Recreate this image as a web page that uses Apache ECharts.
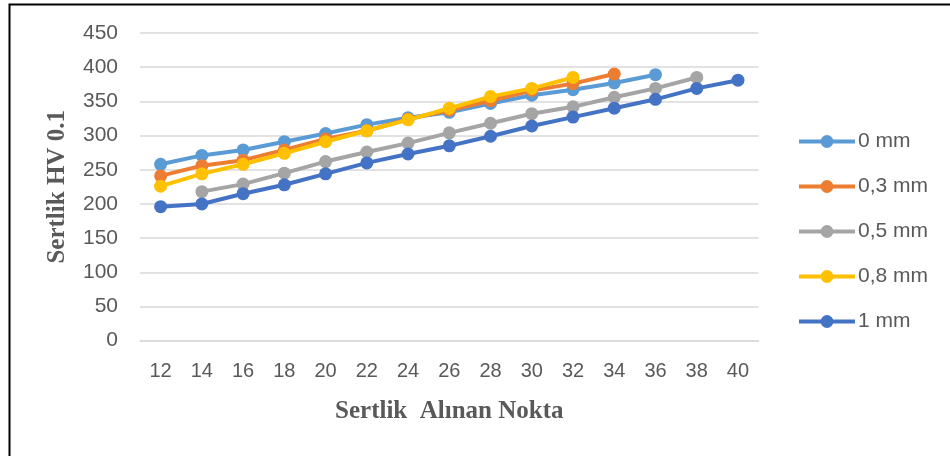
<!DOCTYPE html>
<html>
<head>
<meta charset="utf-8">
<script src="https://cdn.jsdelivr.net/npm/echarts@6/dist/echarts.min.js"></script>
<style>
html,body{margin:0;padding:0;background:#fff;}
#c{width:950px;height:456px;}
</style>
</head>
<body>
<div id="c"></div>
<script>
const categories = ['12','14','16','18','20','22','24','26','28','30','32','34','36','38','40'];
const seriesNames = ['0 mm','0,3 mm','0,5 mm','0,8 mm','1 mm'];
const s0mm  = [258, 271, 279, 291, 303, 316, 326, 334, 347, 359, 367, 377, 389, null, null];
const s03mm = [241, 256, 264, 279, 295, 307, 324, 337, 351, 366, 376, 390, null, null, null];
const s05mm = [null, 218, 229, 245, 262, 276, 289, 304, 318, 332, 342, 356, 369, 385, null];
const s08mm = [226, 244, 258, 274, 291, 307, 323, 340, 357, 369, 385, null, null, null, null];
const s1mm  = [196, 200, 215, 228, 244, 260, 273, 285, 299, 314, 327, 340, 353, 369, 381];
const colors = ['#5B9BD5','#ED7D31','#A5A5A5','#FFC000','#4472C4'];
const allData = [s0mm, s03mm, s05mm, s08mm, s1mm];

const chart = echarts.init(document.getElementById('c'), null, {renderer:'canvas'});
const labelFont = 'Liberation Sans';
chart.setOption({
  animation:false,
  backgroundColor:'#ffffff',
  graphic:[{
    type:'rect', shape:{x:9.5,y:4.5,width:1200,height:1200},
    style:{fill:'none',stroke:'#000',lineWidth:2}, silent:true
  }],
  grid:{left:140, right:950-758.6, top:33, bottom:456-340.7, containLabel:false},
  legend:{
    orient:'vertical', left:797, top:131, padding:0, itemWidth:56, itemHeight:16, itemGap:24,
    data:seriesNames,
    lineStyle:{width:4},
    textStyle:{color:'#595959', fontSize:21, fontFamily:labelFont, padding:[0,0,0,-2]}
  },
  xAxis:{
    type:'category', data:categories, boundaryGap:true,
    name:'Sertlik  Alınan Nokta', nameLocation:'middle', nameGap:58,
    nameTextStyle:{color:'#595959', fontSize:25, fontWeight:'bold', fontFamily:'Liberation Serif'},
    axisLine:{show:true, lineStyle:{color:'#D9D9D9', width:1.5}},
    axisTick:{show:false},
    axisLabel:{color:'#595959', fontSize:20, fontFamily:labelFont, margin:21}
  },
  yAxis:{
    type:'value', min:0, max:450, interval:50,
    name:'Sertlik HV 0.1', nameLocation:'middle', nameGap:70, nameRotate:90,
    nameTextStyle:{color:'#595959', fontSize:25, fontWeight:'bold', fontFamily:'Liberation Serif'},
    axisLine:{show:false}, axisTick:{show:false},
    axisLabel:{color:'#595959', fontSize:21, fontFamily:labelFont, margin:22},
    splitLine:{lineStyle:{color:'#D9D9D9', width:1.5}}
  },
  series: seriesNames.map((n,i)=>({
    name:n, type:'line', data:allData[i], color:colors[i],
    symbol:'circle', symbolSize:13, showSymbol:true,
    lineStyle:{width:4, color:colors[i]},
    itemStyle:{color:colors[i]},
    connectNulls:false, z:2+i
  }))
});
</script>
</body>
</html>
